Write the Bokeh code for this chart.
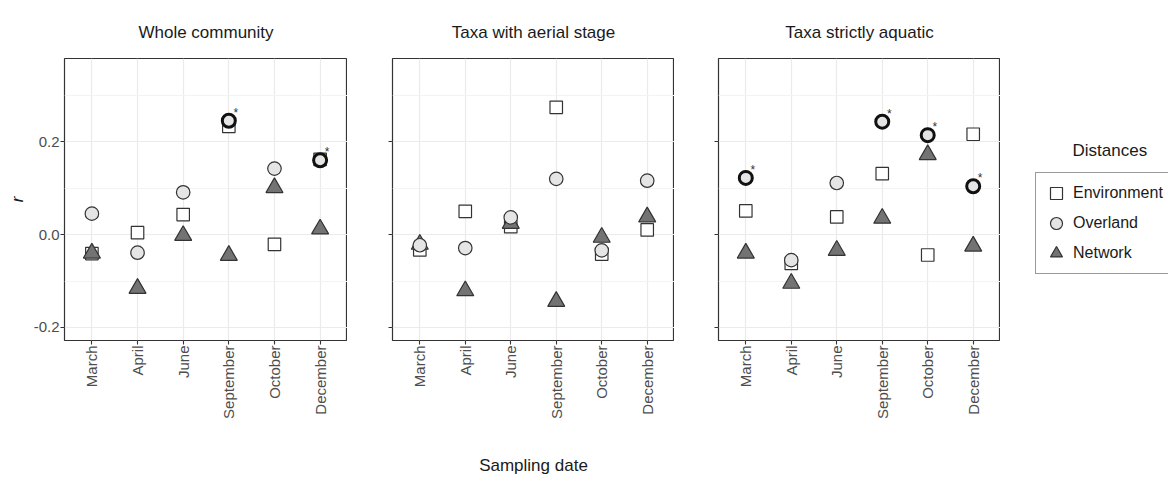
from bokeh.plotting import figure
from bokeh.models import (ColumnDataSource, FactorRange, FixedTicker, Legend, LegendItem,
                          Label, Range1d, NumeralTickFormatter)
from bokeh.layouts import row
from bokeh.embed import file_html
from bokeh.resources import INLINE
from bokeh.core.properties import value
import math

# ---------------- data ----------------
months = ["March", "April", "June", "September", "October", "December"]
panel_titles = ["Whole community", "Taxa with aerial stage", "Taxa strictly aquatic"]
series_names = ["Environment", "Overland", "Network"]

whole_env = [-0.041, 0.004, 0.043, 0.233, -0.021, 0.162]
whole_over = [0.045, -0.039, 0.091, 0.245, 0.142, 0.160]
whole_net = [-0.040, -0.116, -0.002, -0.045, 0.101, 0.012]
whole_sig = [False, False, False, True, False, True]

aerial_env = [-0.033, 0.050, 0.017, 0.274, -0.042, 0.010]
aerial_over = [-0.023, -0.029, 0.037, 0.120, -0.034, 0.116]
aerial_net = [-0.021, -0.121, 0.024, -0.144, -0.006, 0.038]
aerial_sig = [False, False, False, False, False, False]

aquatic_env = [0.051, -0.062, 0.038, 0.131, -0.044, 0.216]
aquatic_over = [0.122, -0.055, 0.111, 0.243, 0.214, 0.104]
aquatic_net = [-0.040, -0.105, -0.034, 0.035, 0.172, -0.025]
aquatic_sig = [True, False, False, True, True, True]

y_major = [-0.2, 0.0, 0.2]
y_minor = [-0.1, 0.1, 0.3]

x_title = "Sampling date"
y_title = "r"
legend_title = "Distances"

# ---------------- style ----------------
FONT = "Liberation Sans"
H = 477
TOP = 58
BOTTOM = 134

ENV_STYLE = dict(marker="square", fill_color="white", line_color="#333333", line_width=1.2)
NET_STYLE = dict(marker="triangle", fill_color="#737373", line_color="#333333", line_width=1.2)
OVER_STYLE = dict(marker="circle", fill_color="#e5e5e5", line_color="#333333", line_width=1.2)

panels = [
    (whole_env, whole_over, whole_net, whole_sig),
    (aerial_env, aerial_over, aerial_net, aerial_sig),
    (aquatic_env, aquatic_over, aquatic_net, aquatic_sig),
]
# (min_border_left, min_border_right, width)
borders = [(64, 0, 347), (45, 0, 327), (44, 0, 326)]

figs = []
for i, (env, over, net, sig) in enumerate(panels):
    mbl, mbr, w = borders[i]
    p = figure(
        x_range=FactorRange(factors=months, range_padding=0.1, range_padding_units="absolute"),
        y_range=Range1d(-0.228, 0.379),
        width=w, height=H,
        min_border_left=mbl, min_border_right=mbr,
        min_border_top=TOP, min_border_bottom=BOTTOM,
        output_backend="svg", toolbar_location=None,
        title=panel_titles[i],
    )
    p.title.align = "center"
    p.title.text_font = FONT
    p.title.text_font_size = "17px"
    p.title.text_font_style = "normal"
    p.title.text_color = "#1a1a1a"
    p.title.standoff = 34

    p.background_fill_color = "white"
    p.border_fill_color = "white"
    p.outline_line_color = "#333333"
    p.outline_line_width = 1.2

    ticker = FixedTicker(ticks=y_major, minor_ticks=y_minor)
    p.yaxis.ticker = ticker
    p.ygrid.ticker = ticker
    p.yaxis.formatter = NumeralTickFormatter(format="0.0")

    p.xgrid.grid_line_color = "#ebebeb"
    p.xgrid.grid_line_width = 1.2
    p.ygrid.grid_line_color = "#ebebeb"
    p.ygrid.grid_line_width = 1.2
    p.ygrid.minor_grid_line_color = "#f3f3f3"
    p.ygrid.minor_grid_line_width = 1

    for ax in (p.xaxis[0], p.yaxis[0]):
        ax.axis_line_color = None
        ax.major_tick_line_color = "#333333"
        ax.major_tick_line_width = 1.1
        ax.major_tick_out = 4
        ax.major_tick_in = 0
        ax.minor_tick_line_color = None
        ax.major_label_text_font = FONT
        ax.major_label_text_font_size = "15px"
        ax.major_label_text_color = "#4d4d4d"
        ax.major_label_standoff = 1
        ax.axis_label_text_font = FONT
        ax.axis_label_text_font_size = "17px"
        ax.axis_label_text_color = "#1a1a1a"
        ax.axis_label_text_font_style = "normal"

    p.xaxis.major_label_orientation = math.pi / 2

    if i == 0:
        p.yaxis.axis_label = y_title
        p.yaxis.axis_label_text_font_style = "italic"
        p.yaxis.axis_label_standoff = 4
    else:
        p.yaxis.major_label_text_color = None
    if i == 1:
        p.xaxis.axis_label = x_title
        p.xaxis.axis_label_standoff = 34

    src = ColumnDataSource(dict(month=months, env=env, over=over, net=net))
    sig_months = [m for m, s in zip(months, sig) if s]
    sig_vals = [v for v, s in zip(over, sig) if s]
    sig_src = ColumnDataSource(dict(month=sig_months, over=sig_vals, star=["*"] * len(sig_months)))

    p.scatter("month", "env", source=src, size=12.5, **ENV_STYLE)
    p.scatter("month", "net", source=src, size=17, **NET_STYLE)
    p.scatter("month", "over", source=src, size=13.5, **OVER_STYLE)
    if sig_months:
        p.scatter("month", "over", source=sig_src, marker="circle", size=13,
                  fill_color="#e5e5e5", line_color="#111111", line_width=3)
        p.text("month", "over", text="star", source=sig_src, x_offset=7, y_offset=-8,
               text_font=value(FONT), text_font_size="12px", text_color="#333333",
               text_align="center", text_baseline="middle")
    figs.append(p)

# ---------------- legend panel ----------------
lg = figure(
    x_range=FactorRange(factors=months), y_range=Range1d(-0.228, 0.379),
    width=168, height=H,
    min_border_left=30, min_border_right=0, min_border_top=TOP, min_border_bottom=BOTTOM,
    x_axis_location=None, y_axis_location=None,
    output_backend="svg", toolbar_location=None,
)
lg.outline_line_color = None
lg.background_fill_color = "white"
lg.border_fill_color = "white"
lg.grid.visible = False

lsrc = ColumnDataSource(dict(month=months, env=aquatic_env, over=aquatic_over, net=aquatic_net))
le = lg.scatter("month", "env", source=lsrc, size=12.5, visible=False, **ENV_STYLE)
lo = lg.scatter("month", "over", source=lsrc, size=13.5, visible=False, **OVER_STYLE)
ln = lg.scatter("month", "net", source=lsrc, size=17, visible=False, **NET_STYLE)

legend = Legend(
    items=[LegendItem(label=series_names[0], renderers=[le]),
           LegendItem(label=series_names[1], renderers=[lo]),
           LegendItem(label=series_names[2], renderers=[ln])],
    location=(5, 66),
    orientation="vertical",
    border_line_color="#333333", border_line_width=1,
    background_fill_color="white", background_fill_alpha=1,
    label_text_font=FONT, label_text_font_size="16px", label_text_color="#1a1a1a",
    glyph_width=30, glyph_height=30, label_height=30,
    label_standoff=2, spacing=0, padding=5, margin=0,
)
lg.add_layout(legend, "center")
lg.add_layout(Label(x=42, y=190, x_units="screen", y_units="screen", text=legend_title,
                    text_align="left", text_baseline="alphabetic",
                    text_font=FONT, text_font_size="17px", text_color="#1a1a1a"))
figs.append(lg)

layout = row(*figs)
open("out.html", "w").write(file_html(layout, INLINE))
